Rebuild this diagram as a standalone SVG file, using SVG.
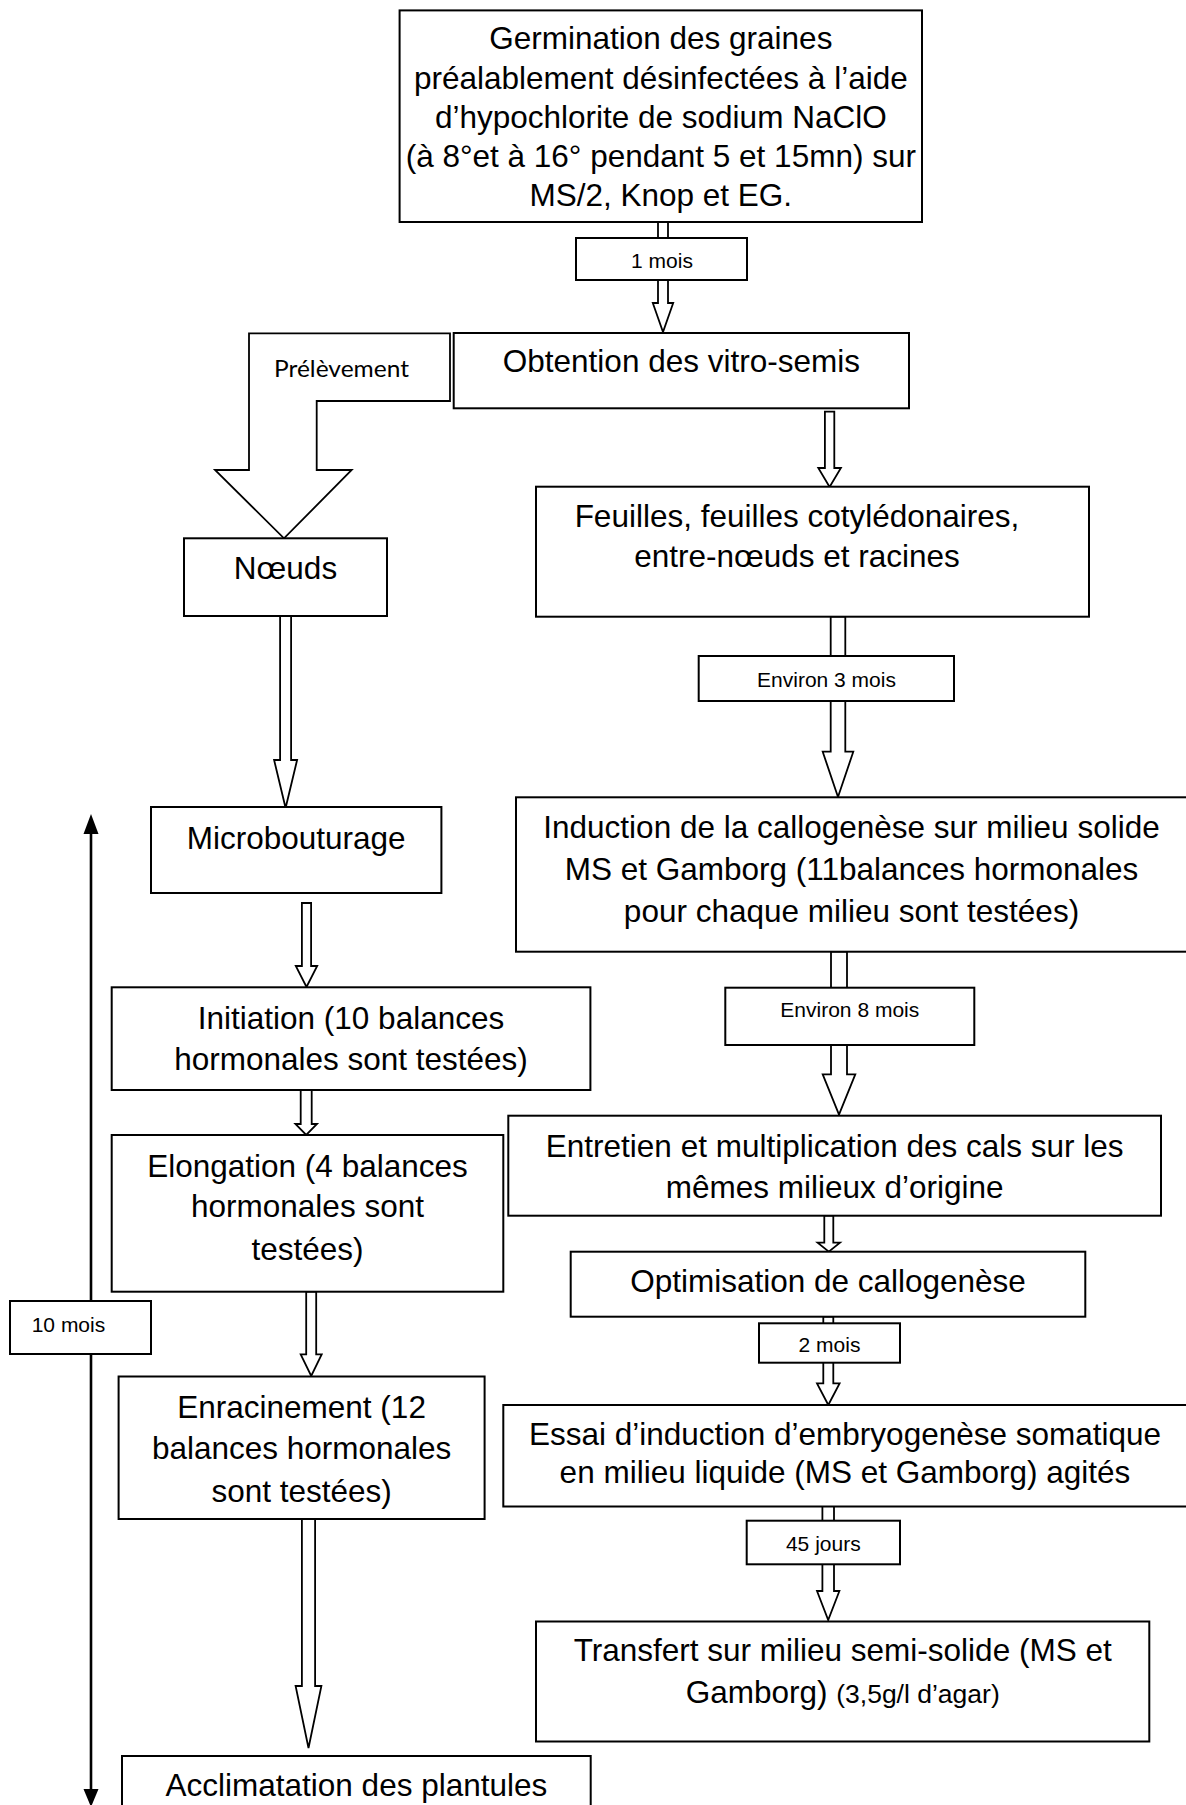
<svg xmlns="http://www.w3.org/2000/svg" width="1186" height="1805" viewBox="0 0 1186 1805">
<style>
.bg{fill:#fff}
.box{fill:#fff;stroke:#000;stroke-width:2}
.arr{fill:#fff;stroke:#000;stroke-width:1.8;stroke-linejoin:miter}
.t{font-family:"Liberation Sans",Arial,sans-serif;font-size:31.5px;text-anchor:middle;fill:#000}
.s{font-family:"Liberation Sans",Arial,sans-serif;font-size:21px;text-anchor:middle;fill:#000}
.c{font-family:Lato,"Open Sans",sans-serif;font-size:24px;fill:#000}
.line{stroke:#000;stroke-width:2.6;fill:none}
.head{fill:#000}
</style>
<rect class="bg" x="0" y="0" width="1186" height="1805"/>
<g id="connectors">
  <polygon class="arr" points="658,222 668,222 668,303 673.2,303 663,332 652.8,303 658,303"/>
  <polygon class="arr" points="824.9,411.7 834.3,411.7 834.3,468 840.9,468 829.6,487 818.3,468 824.9,468"/>
  <polygon class="arr" points="830.7,616.7 845.3,616.7 845.3,751.7 853.3,751.7 838,797 822.7,751.7 830.7,751.7"/>
  <polygon class="arr" points="831,951.7 847,951.7 847,1074.3 855.3,1074.3 839,1114.5 822.7,1074.3 831,1074.3"/>
  <polygon class="arr" points="824.3,1215.7 833.3,1215.7 833.3,1242.7 840,1242.7 828.8,1251.7 817.6,1242.7 824.3,1242.7"/>
  <polygon class="arr" points="823.3,1316.7 833.3,1316.7 833.3,1383.3 839.6,1383.3 828.3,1405 817,1383.3 823.3,1383.3"/>
  <polygon class="arr" points="822.4,1505.7 834,1505.7 834,1591 839.4,1591 828.2,1620 817,1591 822.4,1591"/>
  <polygon class="arr" points="280.1,616 291.1,616 291.1,760 297.1,760 285.6,808 274.1,760 280.1,760"/>
  <polygon class="arr" points="301.9,903 311.1,903 311.1,966 317.2,966 306.5,987 295.8,966 301.9,966"/>
  <polygon class="arr" points="300.7,1090 311.7,1090 311.7,1124 317,1124 306.2,1135 295.4,1124 300.7,1124"/>
  <polygon class="arr" points="306.2,1291.7 316.2,1291.7 316.2,1354.3 321.7,1354.3 311.2,1376 300.7,1354.3 306.2,1354.3"/>
  <polygon class="arr" points="301.9,1519 315.1,1519 315.1,1686 321.4,1686 308.5,1748 295.6,1686 301.9,1686"/>
  <polygon class="arr" points="249,333.3 450,333.3 450,401 316.7,401 316.7,470 351.7,470 284,538.3 215,470 249,470"/>
  <text class="c" x="274" y="376.7" textLength="135" lengthAdjust="spacingAndGlyphs">Prélèvement</text>
  <line class="line" x1="91" y1="830" x2="91" y2="1792"/>
  <polygon class="head" points="91,814 83.5,834 98.5,834"/>
  <polygon class="head" points="91,1807 83.5,1789 98.5,1789"/>
  <g id="lbl-1mois"><rect class="box" x="576" y="238" width="171" height="42"/><text class="s" x="662" y="268">1 mois</text></g>
  <g id="lbl-3mois"><rect class="box" x="698.7" y="656" width="255.3" height="45"/><text class="s" x="826.5" y="686.7">Environ 3 mois</text></g>
  <g id="lbl-8mois"><rect class="box" x="725.3" y="987.7" width="249" height="57.3"/><text class="s" x="849.8" y="1017.3">Environ 8 mois</text></g>
  <g id="lbl-2mois"><rect class="box" x="759" y="1323.3" width="141" height="39.4"/><text class="s" x="829.5" y="1352.3">2 mois</text></g>
  <g id="lbl-45j"><rect class="box" x="746.7" y="1520.7" width="153.3" height="43.6"/><text class="s" x="823.3" y="1550.7">45 jours</text></g>
  <g id="lbl-10mois"><rect class="box" x="10" y="1301" width="141" height="53"/><text class="s" x="31.7" y="1331.7" style="text-anchor:start">10 mois</text></g>
</g>
<g id="germination">
  <rect class="box" x="399.6" y="10.4" width="522.4" height="211.6"/>
  <text class="t" x="660.8" y="49">Germination des graines</text>
  <text class="t" x="660.8" y="88.5">préalablement désinfectées à l’aide</text>
  <text class="t" x="660.8" y="128">d’hypochlorite de sodium NaClO</text>
  <text class="t" x="660.8" y="167">(à 8°et à 16° pendant 5 et 15mn) sur</text>
  <text class="t" x="660.8" y="206">MS/2, Knop et EG.</text>
</g>
<g id="obtention">
  <rect class="box" x="453.7" y="333" width="455.3" height="75.3"/>
  <text class="t" x="681.4" y="372">Obtention des vitro-semis</text>
</g>
<g id="noeuds">
  <rect class="box" x="184" y="538.3" width="203" height="77.7"/>
  <text class="t" x="285.5" y="579.3">Nœuds</text>
</g>
<g id="feuilles">
  <rect class="box" x="536" y="486.7" width="553" height="130"/>
  <text class="t" x="797" y="526.7">Feuilles, feuilles cotylédonaires,</text>
  <text class="t" x="797" y="566.7">entre-nœuds et racines</text>
</g>
<g id="microbouturage">
  <rect class="box" x="151" y="807" width="290.4" height="86"/>
  <text class="t" x="296.2" y="849">Microbouturage</text>
</g>
<g id="induction">
  <rect class="box" x="516" y="797.3" width="675" height="154.4"/>
  <text class="t" x="851.5" y="838.3">Induction de la callogenèse sur milieu solide</text>
  <text class="t" x="851.5" y="880">MS et Gamborg (11balances hormonales</text>
  <text class="t" x="851.5" y="921.7">pour chaque milieu sont testées)</text>
</g>
<g id="initiation">
  <rect class="box" x="111.7" y="987.3" width="478.7" height="102.7"/>
  <text class="t" x="351" y="1029.3">Initiation (10 balances</text>
  <text class="t" x="351" y="1070">hormonales sont testées)</text>
</g>
<g id="entretien">
  <rect class="box" x="508.3" y="1115.7" width="652.7" height="100"/>
  <text class="t" x="834.7" y="1156.7">Entretien et multiplication des cals sur les</text>
  <text class="t" x="834.7" y="1198.3">mêmes milieux d’origine</text>
</g>
<g id="elongation">
  <rect class="box" x="111.7" y="1135" width="391.6" height="156.7"/>
  <text class="t" x="307.5" y="1176.7">Elongation (4 balances</text>
  <text class="t" x="307.5" y="1217.3">hormonales sont</text>
  <text class="t" x="307.5" y="1260">testées)</text>
</g>
<g id="optimisation">
  <rect class="box" x="570.7" y="1251.7" width="514.6" height="65"/>
  <text class="t" x="828" y="1291.7">Optimisation de callogenèse</text>
</g>
<g id="enracinement">
  <rect class="box" x="118.6" y="1376.5" width="366" height="142.5"/>
  <text class="t" x="301.6" y="1418">Enracinement (12</text>
  <text class="t" x="301.6" y="1459">balances hormonales</text>
  <text class="t" x="301.6" y="1502">sont testées)</text>
</g>
<g id="essai">
  <rect class="box" x="503.3" y="1405" width="690" height="101.5"/>
  <text class="t" x="845" y="1445">Essai d’induction d’embryogenèse somatique</text>
  <text class="t" x="845" y="1483.3">en milieu liquide (MS et Gamborg) agités</text>
</g>
<g id="transfert">
  <rect class="box" x="536" y="1621.5" width="613.3" height="120"/>
  <text class="t" x="842.7" y="1661">Transfert sur milieu semi-solide (MS et</text>
  <text class="t" x="842.7" y="1702.7">Gamborg) <tspan style="font-size:26.5px">(3,5g/l d’agar)</tspan></text>
</g>
<g id="acclimatation">
  <rect class="box" x="122" y="1756" width="468.7" height="60"/>
  <text class="t" x="356.4" y="1796">Acclimatation des plantules</text>
</g>
</svg>
